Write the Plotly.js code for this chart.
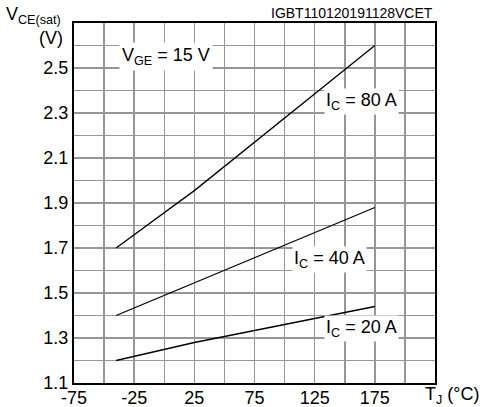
<!DOCTYPE html>
<html><head><meta charset="utf-8">
<script src="https://cdn.plot.ly/plotly-3.0.1.min.js"></script>
<style>html,body{margin:0;padding:0;background:#fff}#c{width:485px;height:407px}</style>
</head><body><div id="c"></div>
<script>
const tj = [-40, 25, 175];
const vce80 = [1.70, 1.955, 2.60];
const vce40 = [1.40, 1.545, 1.88];
const vce20 = [1.20, 1.28, 1.44];
const seriesNames = ['I<sub>C</sub> = 80 A', 'I<sub>C</sub> = 40 A', 'I<sub>C</sub> = 20 A'];
const xTickVals = [-75, -50, -25, 0, 25, 50, 75, 100, 125, 150, 175, 200, 225];
const xTickText = ['-75', '', '-25', '', '25', '', '75', '', '125', '', '175', '', ''];
const yTickVals = [1.1, 1.2, 1.3, 1.4, 1.5, 1.6, 1.7, 1.8, 1.9, 2.0, 2.1, 2.2, 2.3, 2.4, 2.5, 2.6, 2.7];
const yTickText = ['1.1', '', '1.3', '', '1.5', '', '1.7', '', '1.9', '', '2.1', '', '2.3', '', '2.5', '', ''];
const xRange = [-75, 225];
const yRange = [1.1, 2.7];
const font = 'Liberation Sans, Arial, sans-serif';
const gridColor = 'rgb(150,150,150)';
const line = {color:'#000', width:1.3};
const traces = [vce80, vce40, vce20].map((v,i)=>({x:tj, y:v, mode:'lines', line:line, name:seriesNames[i], hoverinfo:'none'}));
const ann = (text, x, y, extra) => Object.assign({text:text, x:x, y:y, showarrow:false, font:{family:font, size:18, color:'#000'}}, extra||{});
const axisCommon = {showgrid:true, gridcolor:gridColor, gridwidth:1.5, showline:true, linecolor:'#000', linewidth:2, mirror:true,
  ticks:'', zeroline:false, fixedrange:true, tickfont:{family:font, size:18, color:'#000'}};
const layout = {
  width:485, height:407,
  margin:{l:74, r:50, t:23, b:24},
  paper_bgcolor:'#fff', plot_bgcolor:'rgba(0,0,0,0)',
  showlegend:false,
  font:{family:font, size:18, color:'#000'},
  xaxis:Object.assign({}, axisCommon, {range:xRange, tickmode:'array', tickvals:xTickVals, ticktext:xTickText, ticklabelstandoff:-3}),
  yaxis:Object.assign({}, axisCommon, {range:yRange, tickmode:'array', tickvals:yTickVals, ticktext:yTickText}),
  annotations:[
    ann('V<sub>GE</sub> = 15 V', 1.5, 2.55, {bgcolor:'#fff', borderpad:2}),
    ann(seriesNames[0], 163.5, 2.352, {bgcolor:'#fff', borderpad:1}),
    ann(seriesNames[1], 137.7, 1.65, {bgcolor:'#fff', borderpad:1}),
    ann(seriesNames[2], 163.5, 1.343, {bgcolor:'#fff', borderpad:1}),
    ann('V<sub>CE(sat)</sub>', -0.03, 1.02, {xref:'paper', yref:'paper', xanchor:'right', yanchor:'middle'}),
    ann('(V)', -0.025, 0.957, {xref:'paper', yref:'paper', xanchor:'right', yanchor:'middle'}),
    ann('T<sub>J</sub> (°C)', 0.966, -0.034, {xref:'paper', yref:'paper', xanchor:'left', yanchor:'middle'}),
    ann('IGBT110120191128VCET', 1.0, 1.0, {xref:'paper', yref:'paper', xanchor:'right', yanchor:'bottom', font:{family:font, size:14, color:'#000'}})
  ]
};
Plotly.newPlot('c', traces, layout, {staticPlot:true, displayModeBar:false});
</script></body></html>
